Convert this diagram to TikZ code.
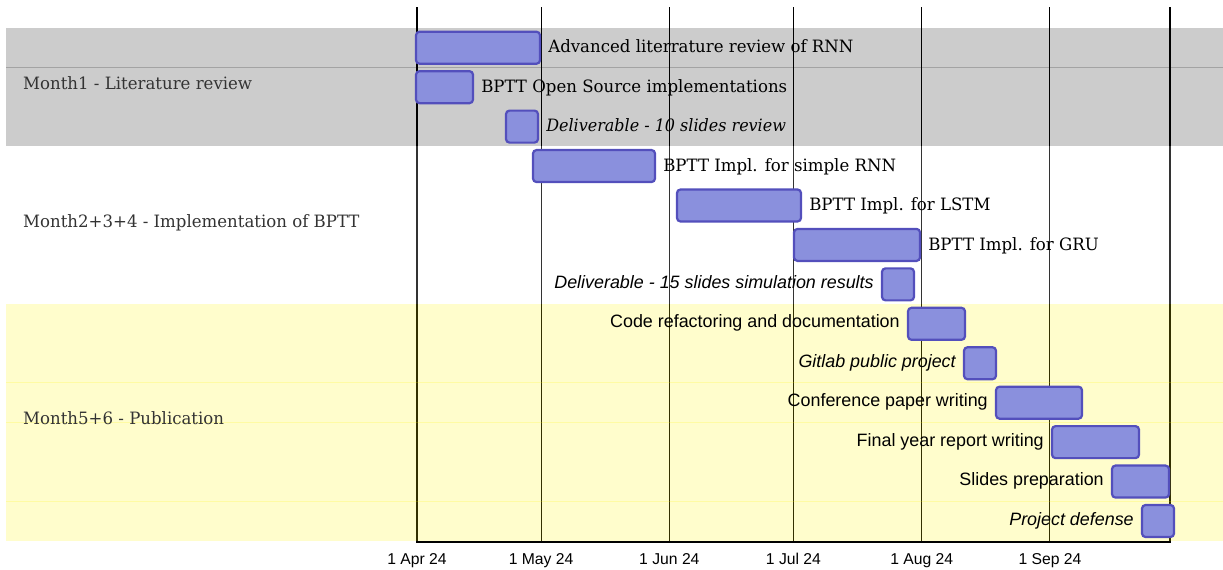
\documentclass[tikz,border=0pt]{standalone}
\usepackage{fontspec}
\setmainfont{Liberation Sans}
\newfontfamily\gserif{DejaVu Serif}[FakeStretch=0.975, ItalicFeatures={FakeStretch=0.94}]
\newfontfamily\gsans{Liberation Sans}
\definecolor{barfill}{HTML}{8A90DD}
\definecolor{barline}{HTML}{534FBC}
\definecolor{secyellow}{HTML}{FFF400}
\definecolor{sectext}{HTML}{333333}
\newcommand\gbar[4]{%
  \node[barsty, minimum width={#3pt-#2pt}] (#1) at ({(#2+#3)/2},{28+39.44*(#4-0.5)}) {};}
\begin{document}
\begin{tikzpicture}[x=1pt,y=-1pt,
  barsty/.style={draw=barline, fill=barfill, line width=2.2pt, rounded corners=3.5pt,
    minimum height=32pt, inner sep=0pt, outer sep=1.1pt},
  serlbl/.style={inner sep=0pt, text=black, font={\gserif\fontsize{17}{20}\selectfont}},
  sanlbl/.style={inner sep=0pt, text=black, font={\gsans\fontsize{17.9}{21}\selectfont}},
  seclbl/.style={inner sep=0pt, anchor=mid west, text=sectext, font={\gserif\fontsize{17}{20}\selectfont}},
  axlbl/.style={inner sep=0pt, anchor=base, text=black, font={\gsans\fontsize{15.7}{18}\selectfont}},
  gridline/.style={black, line width=1pt},
  secgray/.style={fill=black, fill opacity=0.2},
  secwhite/.style={fill=white, fill opacity=0.2},
  secyel/.style={fill=secyellow, fill opacity=0.2}
]
\useasboundingbox (0,0) rectangle (1223,570);
% grid
\foreach \d in {0,30,61,91,122,153}{
  \draw[gridline] ({417+4.137*\d},7) -- ({417+4.137*\d},542);
}
\draw[gridline, line width=1.3pt] (417,7) -- (417,542) -- (1170,542) -- (1170,7);
% sections
\fill[secgray] (6,28) rectangle (1223,146.32);
\fill[secgray] (6,66.94) rectangle (1223,67.94);
\fill[secwhite] (6,146.32) rectangle (1223,304.08);
\fill[secyel] (6,304.08) rectangle (1223,540.72);
\fill[secyel] (6,382.46) rectangle (1223,383.46);
\fill[secyel] (6,421.9) rectangle (1223,422.9);
\fill[secyel] (6,500.78) rectangle (1223,501.78);
% section titles
\node[seclbl] (s1) at (23,87) {Month1 - Literature review};
\node[seclbl] (s2) at (23,225) {Month2+3+4 - Implementation of BPTT};
\node[seclbl] (s3) at (23,422) {Month5+6 - Publication};
% bars
\gbar{b1}{416}{540}{1}
\gbar{b2}{416}{473}{2}
\gbar{b3}{506}{538}{3}
\gbar{b4}{533}{655}{4}
\gbar{b5}{677}{801}{5}
\gbar{b6}{794}{920}{6}
\gbar{b7}{882}{914}{7}
\gbar{b8}{908}{965}{8}
\gbar{b9}{964}{996}{9}
\gbar{b10}{996}{1082}{10}
\gbar{b11}{1052}{1139}{11}
\gbar{b12}{1112}{1169}{12}
\gbar{b13}{1142}{1174}{13}
% task labels
\node[serlbl, anchor=mid west] (l1) at ([xshift=7pt,yshift=-2.5pt]b1.east) {Advanced literrature review of RNN};
\node[serlbl, anchor=mid west] (l2) at ([xshift=7pt,yshift=-2.5pt]b2.east) {BPTT Open Source implementations};
\node[serlbl, anchor=mid west, font={\gserif\itshape\fontsize{17}{20}\selectfont}] (l3) at ([xshift=7pt,yshift=-2.5pt]b3.east) {Deliverable - 10 slides review};
\node[serlbl, anchor=mid west] (l4) at ([xshift=7pt,yshift=-2.5pt]b4.east) {BPTT Impl. for simple RNN};
\node[serlbl, anchor=mid west] (l5) at ([xshift=7pt,yshift=-2.5pt]b5.east) {BPTT Impl. for LSTM};
\node[serlbl, anchor=mid west] (l6) at ([xshift=7pt,yshift=-2.5pt]b6.east) {BPTT Impl. for GRU};
\node[sanlbl, anchor=mid east, font={\gsans\itshape\fontsize{17.9}{21}\selectfont}] (l7) at ([xshift=-7pt,yshift=-1.5pt]b7.west) {Deliverable - 15 slides simulation results};
\node[sanlbl, anchor=mid east] (l8) at ([xshift=-7pt,yshift=-1.5pt]b8.west) {Code refactoring and documentation};
\node[sanlbl, anchor=mid east, font={\gsans\itshape\fontsize{17.9}{21}\selectfont}] (l9) at ([xshift=-7pt,yshift=-1.5pt]b9.west) {Gitlab public project};
\node[sanlbl, anchor=mid east] (l10) at ([xshift=-7pt,yshift=-1.5pt]b10.west) {Conference paper writing};
\node[sanlbl, anchor=mid east] (l11) at ([xshift=-7pt,yshift=-1.5pt]b11.west) {Final year report writing};
\node[sanlbl, anchor=mid east] (l12) at ([xshift=-7pt,yshift=-1.5pt]b12.west) {Slides preparation};
\node[sanlbl, anchor=mid east, font={\gsans\itshape\fontsize{17.9}{21}\selectfont}] (l13) at ([xshift=-7pt,yshift=-1.5pt]b13.west) {Project defense};
% axis labels
\node[axlbl] (a1) at (417,564) {1 Apr 24};
\node[axlbl] (a2) at ({417+4.137*30},564) {1 May 24};
\node[axlbl] (a3) at ({417+4.137*61},564) {1 Jun 24};
\node[axlbl] (a4) at ({417+4.137*91},564) {1 Jul 24};
\node[axlbl] (a5) at ({417+4.137*122},564) {1 Aug 24};
\node[axlbl] (a6) at ({417+4.137*153},564) {1 Sep 24};
\end{tikzpicture}
\end{document}
